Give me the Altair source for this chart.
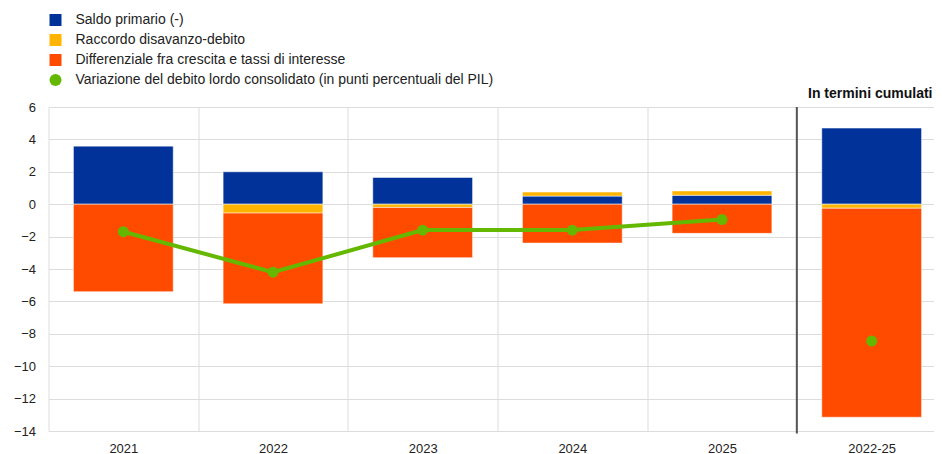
import altair as alt
import pandas as pd

# ---- data ----
categories = ["2021", "2022", "2023", "2024", "2025", "2022-25"]
saldo_primario = [3.6, 2.0, 1.65, 0.5, 0.55, 4.7]
raccordo = [0.0, -0.55, -0.2, 0.25, 0.27, -0.25]
differenziale = [-5.4, -5.6, -3.1, -2.4, -1.8, -12.9]
variazione = [-1.7, -4.2, -1.6, -1.6, -0.95, -8.45]

series_names = [
    "Saldo primario (-)",
    "Raccordo disavanzo-debito",
    "Differenziale fra crescita e tassi di interesse",
    "Variazione del debito lordo consolidato (in punti percentuali del PIL)",
]
series_colors = ["#003299", "#FFB400", "#FF4B00", "#65B800"]
series_shapes = ["square", "square", "square", "circle"]
y_ticks = [-14, -12, -10, -8, -6, -4, -2, 0, 2, 4, 6]
panel_title = "In termini cumulati"

FONT = "Liberation Sans"
W, H = 898, 324
PAD = {"left": 40.5, "top": 99, "right": -12.5, "bottom": 28}

# ---- tables ----
rows = []
for i, c in enumerate(categories):
    for k, vals in enumerate([saldo_primario, raccordo, differenziale]):
        rows.append({"cat": c, "series": series_names[k], "value": vals[i], "ord": k})
bars_df = pd.DataFrame(rows)
line_df = pd.DataFrame({"cat": categories, "value": variazione,
                        "series": [series_names[3]] * len(categories)})
last_df = pd.DataFrame({"cat": [categories[-1]], "label": [panel_title]})

x_scale = alt.Scale(domain=categories, paddingInner=0, paddingOuter=0)
y_scale = alt.Scale(domain=[-14, 6], nice=False, zero=False)
color_scale = alt.Scale(domain=series_names, range=series_colors)
shape_scale = alt.Scale(domain=series_names, range=series_shapes)

legend = alt.Legend(title=None, orient="none", legendX=0, legendY=-94,
                    direction="vertical")

x_axis = alt.Axis(tickBand="extent", grid=True, ticks=False, domain=False,
                  labelAngle=0, labelPadding=11, title=None)
y_axis = alt.Axis(values=y_ticks, grid=True, ticks=False, domain=False,
                  labelPadding=13, title=None, labelOverlap=False)

X = alt.X("cat:N", scale=x_scale, axis=x_axis, sort=categories)
Y = alt.Y("value:Q", scale=y_scale, axis=y_axis)

bars = alt.Chart(bars_df).mark_bar(
    width=alt.RelativeBandSize(2 / 3), stroke="white", strokeWidth=1, strokeOpacity=0.5
).encode(
    x=X,
    y=alt.Y("value:Q", scale=y_scale, axis=y_axis, stack="zero"),
    color=alt.Color("series:N", scale=color_scale, legend=legend),
    order=alt.Order("ord:Q"),
)

# separator between annual and cumulative panels (start of the last band)
sep = alt.Chart(last_df).mark_rule(color="#555555", strokeWidth=2).encode(
    x=alt.X("cat:N", scale=x_scale, axis=x_axis, sort=categories, bandPosition=0),
    y=alt.datum(6, axis=y_axis),
    y2=alt.datum(-14.15),
)

# heading of the cumulative panel, right-aligned near the end of the last band
heading = alt.Chart(last_df).mark_text(
    align="right", baseline="alphabetic", dx=-14, dy=-9,
    font=FONT, fontSize=14, fontWeight="bold", color="#111111",
).encode(
    x=alt.X("cat:N", scale=x_scale, axis=x_axis, sort=categories, bandPosition=1),
    y=alt.datum(6, axis=y_axis),
    text="label:N",
)

line = alt.Chart(line_df).transform_filter(
    alt.FieldOneOfPredicate(field="cat", oneOf=categories[:5])
).mark_line(color="#65B800", strokeWidth=4).encode(x=X, y=Y)

points = alt.Chart(line_df).mark_point(filled=True, size=120, opacity=1).encode(
    x=X,
    y=Y,
    color=alt.Color("series:N", scale=color_scale, legend=legend),
    shape=alt.Shape("series:N", scale=shape_scale, legend=legend),
)

chart = alt.layer(bars, sep, line, points, heading).properties(
    width=W, height=H,
    autosize=alt.AutoSizeParams(type="none"),
    padding=PAD,
).configure_view(stroke=None).configure_axis(
    labelFont=FONT, labelFontSize=13, labelColor="#222222",
    gridColor="#dcdcdc", gridWidth=1,
).configure_legend(
    labelFont=FONT, labelFontSize=14, labelColor="#222222", labelLimit=1000,
    symbolSize=144, symbolStrokeWidth=0, symbolOpacity=1, rowPadding=6,
    labelOffset=13, padding=0,
)

chart.save("out.html", embed_options={"renderer": "svg", "actions": False})
